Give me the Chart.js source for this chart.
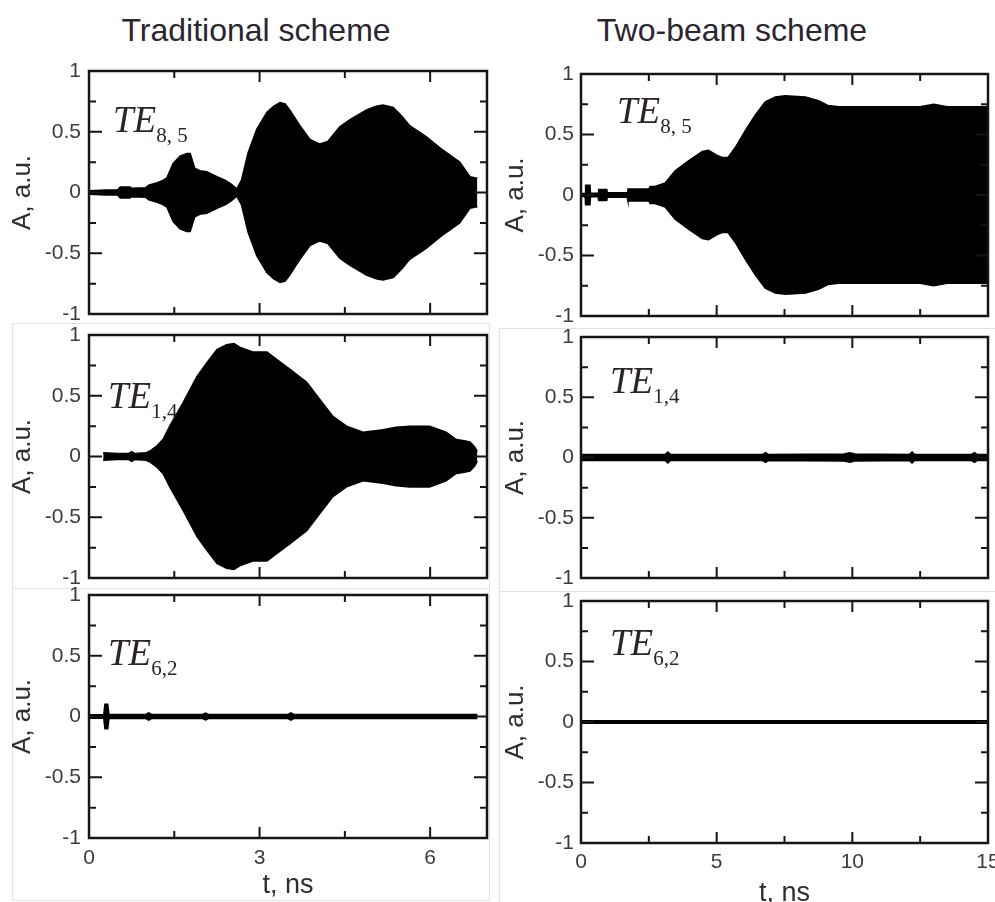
<!DOCTYPE html>
<html>
<head>
<meta charset="utf-8">
<script src="https://cdn.jsdelivr.net/npm/chart.js@4.4.0/dist/chart.umd.min.js"></script>
<style>
  body { margin: 0; background: #fff; width: 995px; height: 902px; overflow: hidden; position: relative; }
  .pane { position: absolute; }
  .box { position: absolute; border: 1px solid #e2e2e2; box-sizing: border-box; }
  .title { position: absolute; top: 14px; font: 32px/32px "Liberation Sans", Arial, sans-serif; color: #2b2530; white-space: nowrap; transform: translateX(-50%); }
  .mode { position: absolute; font: italic 37px/37px "Liberation Serif", "Times New Roman", serif; color: #2e2424; white-space: nowrap; }
  .mode span { font-style: normal; font-size: 21px; position: relative; top: 10px; }
</style>
</head>
<body>
<div class="title" style="left:256px">Traditional scheme</div>
<div class="title" style="left:732px">Two-beam scheme</div>

<div class="box" style="left:12px;top:323px;width:478px;height:266px"></div>
<div class="box" style="left:12px;top:588px;width:478px;height:313px"></div>
<div class="box" style="left:499px;top:328px;width:497px;height:264px"></div>
<div class="box" style="left:499px;top:591px;width:497px;height:312px"></div>

<canvas id="lt" class="pane" width="495" height="262" style="left:0;top:60px"></canvas>
<canvas id="lm" class="pane" width="495" height="262" style="left:0;top:325px"></canvas>
<canvas id="lb" class="pane" width="495" height="313" style="left:0;top:587px"></canvas>
<canvas id="rt" class="pane" width="500" height="264" style="left:495px;top:60px"></canvas>
<canvas id="rm" class="pane" width="500" height="264" style="left:495px;top:326px"></canvas>
<canvas id="rb" class="pane" width="500" height="320" style="left:495px;top:590px"></canvas>

<div class="mode" style="left:113px;top:101px">TE<span>8, 5</span></div>
<div class="mode" style="left:617px;top:92px">TE<span>8, 5</span></div>
<div class="mode" style="left:108px;top:377px">TE<span>1,4</span></div>
<div class="mode" style="left:610px;top:362px">TE<span>1,4</span></div>
<div class="mode" style="left:108px;top:634px">TE<span>6,2</span></div>
<div class="mode" style="left:610px;top:624px">TE<span>6,2</span></div>

<script>
// axis ticks
var yTicks = [-1, -0.75, -0.5, -0.25, 0, 0.25, 0.5, 0.75, 1];
var yLabels = [-1, -0.5, 0, 0.5, 1];
var xTicksTrad = [0, 1.5, 3, 4.5, 6];
var xLabelsTrad = [0, 3, 6];
var xTicksTwo = [0, 2.5, 5, 7.5, 10, 12.5, 15];
var xLabelsTwo = [0, 5, 10, 15];

// envelopes: time (ns) and amplitude (a.u.)
// traditional scheme
var trad85T = [0, 0.3, 0.5, 0.55, 0.72, 0.75, 1.0, 1.05, 1.2, 1.3, 1.37, 1.48, 1.6, 1.72, 1.78, 1.86, 1.95, 2.07, 2.25, 2.4, 2.5, 2.6, 2.68, 2.8, 2.95, 3.13, 3.25, 3.36, 3.45, 3.53, 3.71, 3.88, 4.0, 4.06, 4.2, 4.41, 4.59, 4.88, 5.05, 5.17, 5.35, 5.5, 5.64, 5.93, 6.22, 6.52, 6.7, 6.8, 6.83];
var trad85A = [0.015, 0.02, 0.02, 0.045, 0.045, 0.035, 0.04, 0.06, 0.08, 0.1, 0.12, 0.24, 0.3, 0.32, 0.32, 0.2, 0.18, 0.17, 0.13, 0.1, 0.07, 0.03, 0.1, 0.33, 0.52, 0.66, 0.71, 0.74, 0.73, 0.68, 0.55, 0.44, 0.41, 0.4, 0.42, 0.54, 0.6, 0.68, 0.71, 0.72, 0.7, 0.63, 0.55, 0.46, 0.35, 0.25, 0.13, 0.12, 0.12];
var trad14T = [0.25, 0.5, 0.7, 0.75, 0.8, 1.0, 1.07, 1.2, 1.3, 1.42, 1.65, 1.9, 2.07, 2.25, 2.42, 2.55, 2.65, 2.88, 3.13, 3.3, 3.53, 3.83, 4.06, 4.29, 4.53, 4.82, 5.17, 5.4, 5.64, 5.99, 6.28, 6.46, 6.6, 6.7, 6.78, 6.83];
var trad14A = [0.03, 0.025, 0.025, 0.04, 0.025, 0.03, 0.045, 0.09, 0.14, 0.25, 0.44, 0.66, 0.77, 0.88, 0.92, 0.93, 0.9, 0.86, 0.86, 0.8, 0.72, 0.61, 0.47, 0.33, 0.25, 0.2, 0.22, 0.24, 0.25, 0.25, 0.2, 0.14, 0.13, 0.12, 0.08, 0.04];
var trad62T = [0, 0.26, 0.28, 0.33, 0.35, 1.0, 1.05, 1.1, 2.0, 2.05, 2.1, 3.5, 3.55, 3.6, 6.83];
var trad62A = [0.015, 0.015, 0.1, 0.1, 0.017, 0.017, 0.03, 0.017, 0.017, 0.028, 0.017, 0.017, 0.03, 0.017, 0.017];
// two-beam scheme
var two85T = [0, 0.15, 0.17, 0.33, 0.35, 0.63, 0.65, 0.95, 0.97, 1.7, 1.73, 2.5, 2.55, 2.73, 3.1, 3.47, 3.95, 4.47, 4.7, 5.0, 5.2, 5.42, 5.68, 6.05, 6.42, 6.79, 7.16, 7.53, 8.27, 8.75, 9.1, 9.5, 12.5, 13.0, 13.5, 15];
var two85A = [0.012, 0.012, 0.08, 0.08, 0.015, 0.015, 0.045, 0.045, 0.018, 0.018, 0.05, 0.05, 0.07, 0.07, 0.1, 0.2, 0.28, 0.36, 0.37, 0.33, 0.31, 0.31, 0.39, 0.53, 0.66, 0.77, 0.81, 0.82, 0.81, 0.78, 0.74, 0.73, 0.73, 0.75, 0.73, 0.73];
var two14T = [0, 3.1, 3.2, 3.3, 6.7, 6.8, 6.9, 9.7, 9.9, 10.1, 12.1, 12.2, 12.3, 14.4, 14.5, 14.6, 15];
var two14A = [0.025, 0.025, 0.045, 0.025, 0.025, 0.04, 0.025, 0.03, 0.04, 0.03, 0.025, 0.045, 0.025, 0.025, 0.04, 0.025, 0.025];
var two62T = [0, 15];
var two62A = [0.01, 0.01];

var tickFont = { family: '"Liberation Sans", Arial, sans-serif', size: 21 };
var titleFont = { family: '"Liberation Sans", Arial, sans-serif', size: 27 };

// inward ticks on all four sides plus the frame
var frameTicks = {
    id: 'frameTicks',
    afterDatasetsDraw(chart, args, opts) {
        var ctx = chart.ctx, a = chart.chartArea;
        var x = chart.scales.x, y = chart.scales.y;
        ctx.save();
        ctx.strokeStyle = '#151515';
        ctx.lineWidth = 2;
        ctx.beginPath();
        x.ticks.forEach(function (t) {
            var px = x.getPixelForValue(t.value);
            var len = opts.xMajor.indexOf(t.value) >= 0 ? 11 : 7;
            ctx.moveTo(px, a.bottom); ctx.lineTo(px, a.bottom - len);
            ctx.moveTo(px, a.top); ctx.lineTo(px, a.top + len);
        });
        y.ticks.forEach(function (t) {
            var py = y.getPixelForValue(t.value);
            var len = yLabels.indexOf(t.value) >= 0 ? 13 : 7;
            ctx.moveTo(a.left, py); ctx.lineTo(a.left + len, py);
            ctx.moveTo(a.right, py); ctx.lineTo(a.right - len, py);
        });
        ctx.stroke();
        ctx.lineWidth = 2.5;
        ctx.strokeRect(a.left, a.top, a.right - a.left, a.bottom - a.top);
        ctx.restore();
    }
};

function panel(id, p) {
    var upper = p.t.map(function (v, i) { return { x: v, y: p.a[i] }; });
    var lower = p.t.map(function (v, i) { return { x: v, y: -p.a[i] }; });
    new Chart(document.getElementById(id), {
        type: 'line',
        data: {
            datasets: [
                { data: upper, fill: '+1', backgroundColor: '#000', borderColor: '#000', borderWidth: 1.5, pointRadius: 0, tension: 0 },
                { data: lower, fill: false, borderColor: '#000', borderWidth: 1.5, pointRadius: 0, tension: 0 }
            ]
        },
        options: {
            responsive: false,
            animation: false,
            devicePixelRatio: 1,
            layout: { padding: { left: 0, right: p.padRight, top: p.padTop, bottom: 0 } },
            plugins: {
                legend: { display: false },
                tooltip: { enabled: false },
                frameTicks: { xMajor: p.xLabels }
            },
            scales: {
                x: {
                    type: 'linear',
                    min: 0,
                    max: p.xMax,
                    grid: { display: false, drawTicks: false },
                    border: { display: false },
                    afterBuildTicks: function (s) { s.ticks = p.xTicks.map(function (v) { return { value: v }; }); },
                    afterFit: function (s) { s.height = p.xHeight; s.paddingLeft = 0; s.paddingRight = 0; },
                    ticks: {
                        display: p.showX,
                        padding: p.xPad,
                        color: '#3c3c3c',
                        font: tickFont,
                        maxRotation: 0,
                        autoSkip: false,
                        callback: function (v) { return p.xLabels.indexOf(v) >= 0 ? String(v) : ''; }
                    },
                    title: {
                        display: p.showX,
                        text: 't, ns',
                        color: '#2e2e2e',
                        font: titleFont,
                        padding: { top: 0, bottom: p.titlePad }
                    }
                },
                y: {
                    min: -1,
                    max: 1,
                    grid: { display: false, drawTicks: false },
                    border: { display: false },
                    afterBuildTicks: function (s) { s.ticks = yTicks.map(function (v) { return { value: v }; }); },
                    afterFit: function (s) { s.width = p.yWidth; s.paddingTop = 0; s.paddingBottom = 0; },
                    ticks: {
                        padding: p.yPad,
                        color: '#3c3c3c',
                        font: tickFont,
                        autoSkip: false,
                        callback: function (v) { return yLabels.indexOf(v) >= 0 ? String(v) : ''; }
                    },
                    title: {
                        display: true,
                        text: 'A, a.u.',
                        color: '#2e2e2e',
                        font: { family: titleFont.family, size: 26 },
                        padding: { top: p.yTitlePad, bottom: 0 }
                    }
                }
            }
        },
        plugins: [frameTicks]
    });
}

var left = { xMax: 7, xTicks: xTicksTrad, xLabels: xLabelsTrad, yWidth: 89, padRight: 8, yPad: 8, yTitlePad: 7, xPad: 8, titlePad: -2 };
var right = { xMax: 15, xTicks: xTicksTwo, xLabels: xLabelsTwo, yWidth: 86, padRight: 7, yPad: 7, yTitlePad: 5, xPad: 7, titlePad: 0 };

panel('lt', Object.assign({}, left, { t: trad85T, a: trad85A, padTop: 11, xHeight: 8, showX: false }));
panel('lm', Object.assign({}, left, { t: trad14T, a: trad14A, padTop: 10, xHeight: 9, showX: false }));
panel('lb', Object.assign({}, left, { t: trad62T, a: trad62A, padTop: 8, xHeight: 62, showX: true }));
panel('rt', Object.assign({}, right, { t: two85T, a: two85A, padTop: 14, xHeight: 8, showX: false }));
panel('rm', Object.assign({}, right, { t: two14T, a: two14A, padTop: 11, xHeight: 12, showX: false }));
panel('rb', Object.assign({}, right, { t: two62T, a: two62A, padTop: 11, xHeight: 67, showX: true }));
</script>
</body>
</html>
